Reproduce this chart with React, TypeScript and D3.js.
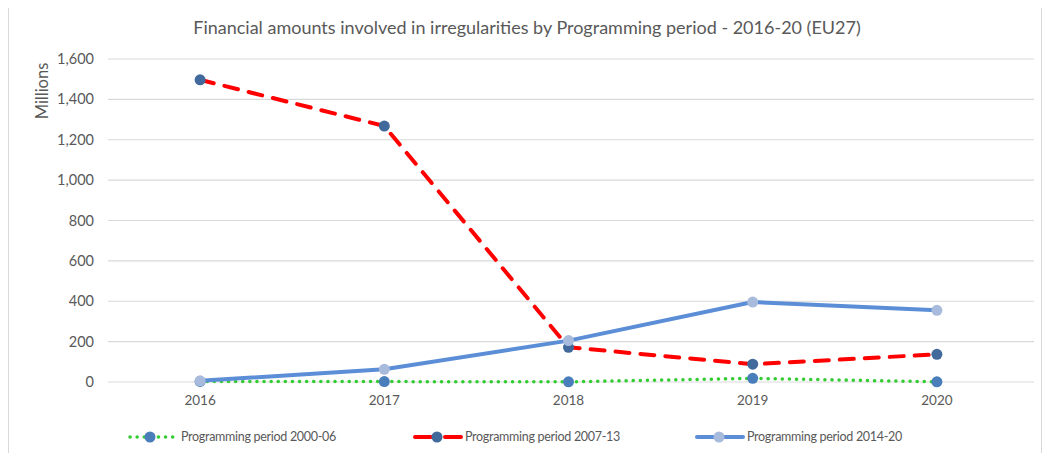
import React, { useEffect, useRef } from "react";
import * as d3 from "d3";

// chart values
const years = ["2016", "2017", "2018", "2019", "2020"];
const period2000 = [3, 2, 1, 18, 1];
const period2007 = [1497, 1268, 172, 88, 137];
const period2014 = [6, 63, 205, 396, 355];
const yTicks = [0, 200, 400, 600, 800, 1000, 1200, 1400, 1600];
const seriesNames = [
  "Programming period 2000-06",
  "Programming period 2007-13",
  "Programming period 2014-20",
];

interface Series {
  name: string;
  values: number[];
  stroke: string;
  width: number;
  dash: string;
  cap: string;
  marker: string;
}

const App = () => {
  const ref = useRef<SVGSVGElement>(null);

  useEffect(() => {
    const width = 1050;
    const height = 461;
    const svg = d3.select(ref.current);
    svg.selectAll("*").remove();

    const font = "Lato, 'Open Sans', sans-serif";

    // outer chart border
    svg
      .append("rect")
      .attr("x", 8.5)
      .attr("y", -2)
      .attr("width", width - 17)
      .attr("height", height + 4)
      .attr("fill", "#ffffff")
      .attr("stroke", "#d9d9d9");

    const x = d3
      .scaleBand<string>()
      .domain(years)
      .range([108, 1029]);
    const y = d3.scaleLinear().domain([0, 1600]).range([382, 59]);
    const cx = (d: string) => (x(d) as number) + x.bandwidth() / 2;

    // gridlines
    svg
      .append("g")
      .selectAll("line")
      .data(yTicks)
      .enter()
      .append("line")
      .attr("x1", 108)
      .attr("x2", 1034)
      .attr("y1", (d) => y(d))
      .attr("y2", (d) => y(d))
      .attr("stroke", "#d9d9d9")
      .attr("stroke-width", 1.2);

    // y tick labels
    svg
      .append("g")
      .selectAll("text")
      .data(yTicks)
      .enter()
      .append("text")
      .attr("x", 94)
      .attr("y", (d) => y(d))
      .attr("dy", "0.35em")
      .attr("text-anchor", "end")
      .attr("font-family", font)
      .attr("font-size", 14.5)
      .attr("fill", "#595959")
      .text((d) => d3.format(",")(d));

    // y axis title
    svg
      .append("text")
      .attr("transform", `translate(48, 91) rotate(-90)`)
      .attr("text-anchor", "middle")
      .attr("font-family", font)
      .attr("font-size", 16.5)
      .attr("fill", "#595959")
      .text("Millions");

    // x labels
    svg
      .append("g")
      .selectAll("text")
      .data(years)
      .enter()
      .append("text")
      .attr("x", (d) => cx(d))
      .attr("y", 405)
      .attr("text-anchor", "middle")
      .attr("font-family", font)
      .attr("font-size", 13.5)
      .attr("fill", "#595959")
      .text((d) => d);

    // title
    svg
      .append("text")
      .attr("x", 527)
      .attr("y", 34)
      .attr("text-anchor", "middle")
      .attr("font-family", font)
      .attr("font-size", 18)
      .attr("fill", "#595959")
      .text(
        "Financial amounts involved in irregularities by Programming period - 2016-20 (EU27)"
      );

    const series: Series[] = [
      {
        name: seriesNames[0],
        values: period2000,
        stroke: "#33cc33",
        width: 3.5,
        dash: "0.1 7",
        cap: "round",
        marker: "#4a7ebb",
      },
      {
        name: seriesNames[1],
        values: period2007,
        stroke: "#ff0000",
        width: 4,
        dash: "14 11",
        cap: "round",
        marker: "#41699c",
      },
      {
        name: seriesNames[2],
        values: period2014,
        stroke: "#5b8ed6",
        width: 4,
        dash: "none",
        cap: "round",
        marker: "#a9bbdc",
      },
    ];

    const line = d3
      .line<number>()
      .x((_, i) => cx(years[i]))
      .y((d) => y(d));

    series.forEach((s) => {
      const g = svg.append("g");
      g.append("path")
        .attr("d", line(s.values) as string)
        .attr("fill", "none")
        .attr("stroke", s.stroke)
        .attr("stroke-width", s.width)
        .attr("stroke-dasharray", s.dash)
        .attr("stroke-linecap", s.cap)
        .attr("stroke-linejoin", "round");
      g.selectAll("circle")
        .data(s.values)
        .enter()
        .append("circle")
        .attr("cx", (_, i) => cx(years[i]))
        .attr("cy", (d) => y(d))
        .attr("r", 5.5)
        .attr("fill", s.marker);
    });

    // legend
    const legendX = [128, 415, 697];
    series.forEach((s, i) => {
      const g = svg
        .append("g")
        .attr("transform", `translate(${legendX[i]}, 437)`);
      g.append("line")
        .attr("x1", i === 0 ? 2 : 0)
        .attr("x2", 46)
        .attr("y1", 0)
        .attr("y2", 0)
        .attr("stroke", s.stroke)
        .attr("stroke-width", s.width)
        .attr("stroke-dasharray", i === 0 ? "0.1 7" : i === 1 ? "16 14" : "none")
        .attr("stroke-linecap", s.cap);
      g.append("circle")
        .attr("cx", 22)
        .attr("cy", 0)
        .attr("r", 5.5)
        .attr("fill", s.marker);
      g.append("text")
        .attr("x", i === 0 ? 53 : 50)
        .attr("y", 0)
        .attr("dy", "0.35em")
        .attr("font-family", font)
        .attr("font-size", 12.5)
        .attr("letter-spacing", -0.3)
        .attr("fill", "#595959")
        .text(s.name);
    });
  }, []);

  return (
    <div style={{ margin: -8, background: "#ffffff" }}>
      <svg ref={ref} width={1050} height={461} style={{ display: "block" }} />
    </div>
  );
};

export default App;
